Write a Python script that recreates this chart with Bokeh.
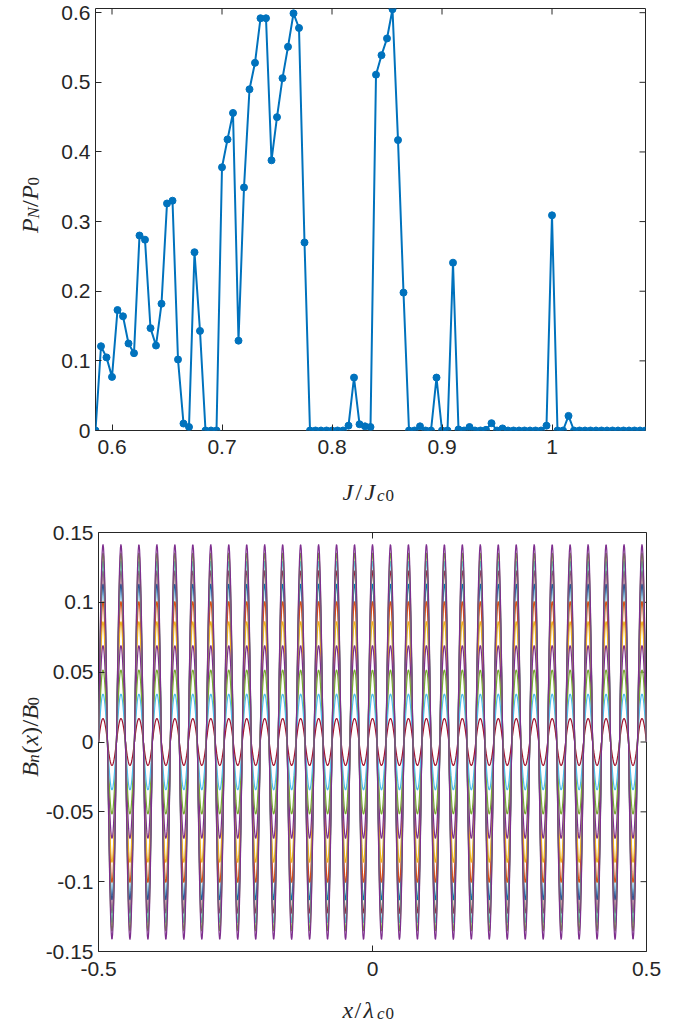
import numpy as np
from bokeh.plotting import figure
from bokeh.layouts import column, row
from bokeh.models import FixedTicker, NumeralTickFormatter, Range1d
from bokeh.core.properties import value
from bokeh.embed import file_html
from bokeh.resources import INLINE

# ---------------- data ----------------
J_start = 0.585
J_step = 0.005
PN_P0 = [0, 0.121, 0.105, 0.077, 0.173, 0.164, 0.125, 0.111, 0.280, 0.274,
         0.147, 0.122, 0.182, 0.326, 0.330, 0.102, 0.010, 0.005, 0.256, 0.143,
         0, 0, 0, 0.378, 0.418, 0.456, 0.129, 0.349, 0.490, 0.528,
         0.592, 0.592, 0.388, 0.450, 0.506, 0.551, 0.599, 0.578, 0.270, 0,
         0, 0, 0, 0, 0, 0, 0.007, 0.076, 0.009, 0.006,
         0.005, 0.511, 0.539, 0.563, 0.605, 0.417, 0.198, 0, 0, 0.006,
         0, 0, 0.076, 0, 0, 0.241, 0.0015, 0, 0.005, 0,
         0, 0.001, 0.0105, 0, 0.003, 0, 0, 0, 0, 0,
         0, 0, 0.007, 0.309, 0, 0, 0.021, 0, 0, 0,
         0, 0, 0, 0, 0, 0, 0, 0, 0, 0,
         0]
J = [round(J_start + J_step * i, 4) for i in range(len(PN_P0))]

x_ticks_top = [0.6, 0.7, 0.8, 0.9, 1.0]
y_ticks_top = [0, 0.1, 0.2, 0.3, 0.4, 0.5, 0.6]

# bottom: B_n(x)/B0 = a_n cos(2*pi*k*x), k periods per lambda_c0
periods_per_unit = 30.5
mode_amp = [0.1132, 0.1007, 0.0863, 0.0691, 0.0516, 0.0343, 0.0168,
            0.1228, 0.1295, 0.1355, 0.1415]
mode_color = ["#0072BD", "#D95319", "#EDB120", "#7E2F8E", "#77AC30", "#4DBEEE", "#A2142F",
              "#A2142F", "#4DBEEE", "#77AC30", "#7E2F8E"]
x_ticks_bot = [-0.5, 0, 0.5]
y_ticks_bot = [-0.15, -0.1, -0.05, 0, 0.05, 0.1, 0.15]

AX = "#262626"
TICK_FONT = "Liberation Sans"
MATH_FONT = "Liberation Serif"
TICK_LEN = 6


def style(p, xt, yt, frame_w, frame_h, xstand):
    p.outline_line_color = AX
    p.outline_line_width = 1
    p.xgrid.visible = False
    p.ygrid.visible = False
    for ax, ticks in ((p.xaxis[0], xt), (p.yaxis[0], yt)):
        ax.ticker = FixedTicker(ticks=ticks)
        ax.formatter = NumeralTickFormatter(format="0.[00]")
        ax.major_tick_in = TICK_LEN
        ax.major_tick_out = 0
        ax.minor_tick_line_color = None
        ax.axis_line_color = None
        ax.major_tick_line_color = AX
        ax.major_label_text_font = TICK_FONT
        ax.major_label_text_font_size = "21px"
        ax.major_label_text_color = AX
    p.xaxis[0].major_label_standoff = xstand
    p.yaxis[0].major_label_standoff = 5
    # mirrored ticks on top and right (box on)
    x0, x1 = p.x_range.start, p.x_range.end
    y0, y1 = p.y_range.start, p.y_range.end
    dy = TICK_LEN * (y1 - y0) / frame_h
    dx = TICK_LEN * (x1 - x0) / frame_w
    p.segment(x0=xt, y0=[y1] * len(xt), x1=xt, y1=[y1 - dy] * len(xt), line_color=AX, line_width=1)
    p.segment(x0=[x1] * len(yt), y0=yt, x1=[x1 - dx] * len(yt), y1=yt, line_color=AX, line_width=1)


def label_fig(w, h):
    f = figure(width=w, height=h, output_backend="svg", toolbar_location=None,
               x_range=Range1d(0, w), y_range=Range1d(h, 0),
               x_axis_location=None, y_axis_location=None,
               min_border=0, min_border_left=0, min_border_right=0,
               min_border_top=0, min_border_bottom=0)
    f.outline_line_color = None
    f.xgrid.visible = False
    f.ygrid.visible = False
    return f


def math_text(f, cx, cy, pieces, vertical=False):
    """pieces: (text, size, italic, sub_px, advance_px); (cx, cy) = start point on baseline, px."""
    cur = 0.0
    for text, size, italic, sub, adv in pieces:
        if vertical:
            x, y, ang = cx + sub, cy - cur, np.pi / 2
        else:
            x, y, ang = cx + cur, cy + sub, 0
        f.text(x=[x], y=[y], text=[text], angle=ang, text_font=value(MATH_FONT),
               text_font_size=value(f"{size}px"),
               text_font_style="italic" if italic else "normal",
               text_color=AX, text_align="left", text_baseline="alphabetic")
        cur += adv


YL_W = 42
LB = 95 - YL_W

# ---------------- top figure ----------------
tx0, tx1, ty0, ty1 = 0.585, 1.085, 0.0, 0.606
p1 = figure(width=675 - YL_W, height=470, output_backend="svg", toolbar_location=None,
            x_range=Range1d(tx0, tx1), y_range=Range1d(ty0, ty1),
            min_border_left=LB, min_border_right=30, min_border_top=8, min_border_bottom=40)
style(p1, x_ticks_top, y_ticks_top, 550, 422, 9)
p1.line(J, PN_P0, line_color="#0072BD", line_width=2)
p1.scatter(J, PN_P0, size=7, fill_color="#0072BD", line_color="#0072BD")

yl1 = label_fig(YL_W, 470)
math_text(yl1, 29, 250, [("P", 24, True, 0, 16), ("N", 17, True, 4, 13),
                         ("/", 24, False, 0, 8), ("P", 24, True, 0, 16),
                         ("0", 17, False, 4, 9)], vertical=True)
xl1 = label_fig(675, 42)
math_text(xl1, 342, 21, [("J", 24, True, 0, 13), ("/", 24, False, 0, 9),
                         ("J", 24, True, 0, 12.5), ("c", 17, True, 4, 8.5),
                         ("0", 17, False, 4, 9)])

# ---------------- bottom figure ----------------
bx0, bx1, by0, by1 = -0.5, 0.5, -0.15, 0.15
p2 = figure(width=675 - YL_W, height=475, output_backend="svg", toolbar_location=None,
            x_range=Range1d(bx0, bx1), y_range=Range1d(by0, by1),
            min_border_left=LB, min_border_right=29, min_border_top=20, min_border_bottom=36)
style(p2, x_ticks_bot, y_ticks_bot, 551, 419, 10)
xs = np.linspace(-0.5, 0.5, 1201)
for a, c in zip(mode_amp, mode_color):
    p2.line(xs, a * np.cos(2 * np.pi * periods_per_unit * xs), line_color=c, line_width=1.2)

yl2 = label_fig(YL_W, 475)
math_text(yl2, 29, 277, [("B", 24, True, 0, 16), ("n", 17, True, 4, 10.5),
                         ("(", 24, False, 0, 9), ("x", 24, True, 0, 12),
                         (")", 24, False, 0, 9.5), ("/", 24, False, 0, 8),
                         ("B", 24, True, 0, 16), ("0", 17, False, 4, 9)], vertical=True)
xl2 = label_fig(675, 37)
math_text(xl2, 342, 22, [("x", 24, True, 0, 12), ("/", 24, False, 0, 9),
                         ("λ", 24, True, 0, 13.5), ("c", 17, True, 4, 8.5),
                         ("0", 17, False, 4, 9)])

layout = column(row(yl1, p1, spacing=0), xl1, row(yl2, p2, spacing=0), xl2, spacing=0)
open("out.html", "w").write(file_html(layout, INLINE))
